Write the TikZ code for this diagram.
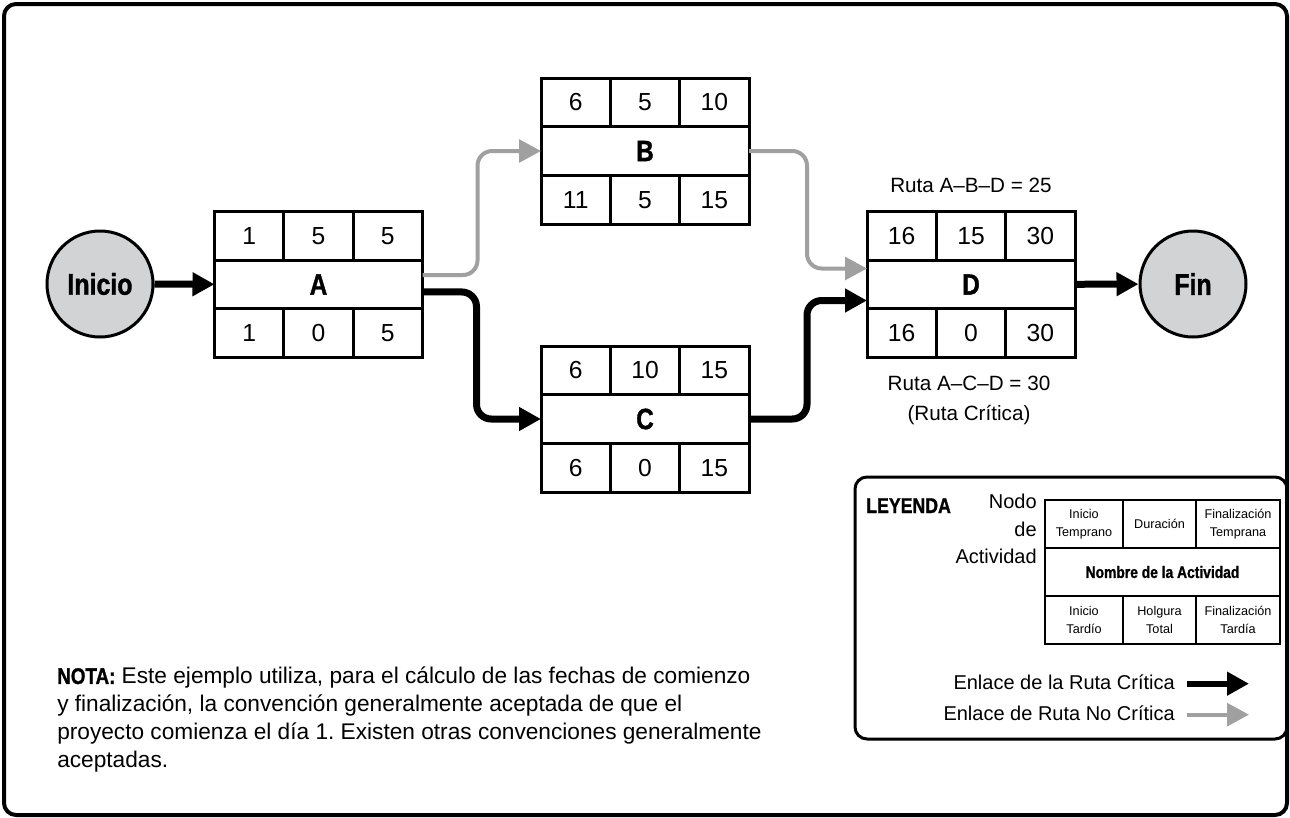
\documentclass[tikz,border=0pt]{standalone}
\usepackage{fontspec}
\setmainfont{Liberation Sans}[BoldFeatures={FakeStretch=0.83, FakeBold=1.2}]
\usetikzlibrary{positioning,arrows.meta}
\frenchspacing

\definecolor{gris}{RGB}{209,211,212}
\definecolor{enlacegris}{RGB}{160,160,160}

% one activity box: name, position, top row, label, bottom row
\newcommand{\actividad}[9]{%
  \node[nombre] (#1) at (#2) {#6};
  \node[celda, anchor=south west] (#1-ie) at (#1.north west) {#3};
  \node[celda, right=0pt of #1-ie] (#1-du) {#4};
  \node[celda, right=0pt of #1-du] (#1-fe) {#5};
  \node[celda, anchor=north west] (#1-it) at (#1.south west) {#7};
  \node[celda, right=0pt of #1-it] (#1-ht) {#8};
  \node[celda, right=0pt of #1-ht] (#1-ft) {#9};
}

\begin{document}
\begin{tikzpicture}[x=0.75pt, y=-0.75pt,
      nombre/.style={draw, line width=2.25pt, fill=white, outer sep=0pt, inner sep=0pt,
        minimum width=156pt, minimum height=36.5pt, font=\fontsize{22}{26}\selectfont\bfseries},
      celda/.style={draw, line width=2.25pt, fill=white, outer sep=0pt, inner sep=0pt,
        minimum width=52pt, minimum height=36.5pt, font=\fontsize{18.5}{20}\selectfont},
      circulo/.style={circle, draw, line width=2.25pt, fill=gris, minimum size=79.5pt,
        font=\fontsize{22.5}{26}\selectfont\bfseries},
      critica/.style={line width=5.25pt, rounded corners=11pt, -{Triangle[length=16.5pt, width=17pt]}},
      nocritica/.style={line width=3pt, draw=enlacegris, rounded corners=11pt,
        -{Triangle[length=16.5pt, width=17pt, fill=enlacegris]}},
      etiqueta/.style={font=\fontsize{15.5}{22.5}\selectfont, align=center},
      legcelda/.style={draw, line width=1.5pt, outer sep=0pt, inner sep=0pt, minimum height=36pt,
        align=center, font=\fontsize{9.5}{13.5}\selectfont}]
  \useasboundingbox (0,0) rectangle (1290,818);

  % frame
  \draw[line width=3pt, rounded corners=9pt] (4,4) rectangle (1287,815);

  % Define nodes
  \node[circulo] (inicio) at (100,284) {Inicio};
  \actividad{A}{318.5,284.5}{1}{5}{5}{A}{1}{0}{5}
  \actividad{B}{645,151}{6}{5}{10}{B}{11}{5}{15}
  \actividad{C}{645,419}{6}{10}{15}{C}{6}{0}{15}
  \actividad{D}{971,284.5}{16}{15}{30}{D}{16}{0}{30}
  \node[circulo] (fin) at (1193,284) {Fin};

  \node[etiqueta] (rutaABD) at (971,185) {Ruta A--B--D = 25};
  \node[etiqueta] (rutaACD) at (969,400) {Ruta A--C--D = 30\\(Ruta Crítica)};

  % Connect nodes with arrows
  \draw[critica] (inicio) -- (A);
  \draw[nocritica] ([yshift=7.1pt]A.east) -- ++(55,0) |- (B.west);
  \draw[critica] ([yshift=-5.6pt]A.east) -- ++(54,0) |- (C.west);
  \draw[nocritica] (B.east) -- ++(58,0) |- ([yshift=12pt]D.west);
  \draw[critica] (C.east) -- ++(58,0) |- ([yshift=-12pt]D.west);
  \draw[critica] (D) -- (fin);

  % legend
  \draw[line width=2.25pt, rounded corners=9pt] (855,477) rectangle (1287,739);
  \node[anchor=base west, inner sep=0pt, font=\fontsize{16}{18}\selectfont\bfseries] (leyenda) at (866,513) {LEYENDA};
  \node[anchor=north east, inner sep=0pt, align=right, font=\fontsize{15}{20.6}\selectfont] (nodoact) at (1037,494)
    {Nodo\\de\\Actividad};
  \node[legcelda, minimum width=176.25pt, font=\fontsize{12.5}{14}\selectfont\bfseries] (leg) at (1162.5,572)
    {Nombre de la Actividad};
  \node[legcelda, minimum width=58.5pt, anchor=south west] (leg-ie) at (leg.north west) {Inicio\\Temprano};
  \node[legcelda, minimum width=54.75pt, right=0pt of leg-ie] (leg-du) {Duración};
  \node[legcelda, minimum width=63pt, right=0pt of leg-du] (leg-fe) {Finalización\\Temprana};
  \node[legcelda, minimum width=58.5pt, anchor=north west] (leg-it) at (leg.south west) {Inicio\\Tardío};
  \node[legcelda, minimum width=54.75pt, right=0pt of leg-it] (leg-ht) {Holgura\\Total};
  \node[legcelda, minimum width=63pt, right=0pt of leg-ht] (leg-ft) {Finalización\\Tardía};

  \node[anchor=base east, inner sep=0pt, font=\fontsize{15}{18}\selectfont] (legcrit) at (1175,689)
    {Enlace de la Ruta Crítica};
  \node[anchor=base east, inner sep=0pt, font=\fontsize{15}{18}\selectfont] (legnocrit) at (1175,720)
    {Enlace de Ruta No Crítica};
  \draw[critica, line width=4.5pt] ([xshift=9pt, yshift=4pt]legcrit.base east) -- ++(62,0);
  \draw[nocritica] ([xshift=9pt, yshift=4pt]legnocrit.base east) -- ++(62,0);

  % note
  \node[anchor=north west, inner sep=0pt, align=left, font=\fontsize{17}{21}\selectfont] (nota) at (57,667)
    {\textbf{NOTA:} Este ejemplo utiliza, para el cálculo de las fechas de comienzo\\
     y finalización, la convención generalmente aceptada de que el\\
     proyecto comienza el día 1. Existen otras convenciones generalmente\\
     aceptadas.};
\end{tikzpicture}
\end{document}
